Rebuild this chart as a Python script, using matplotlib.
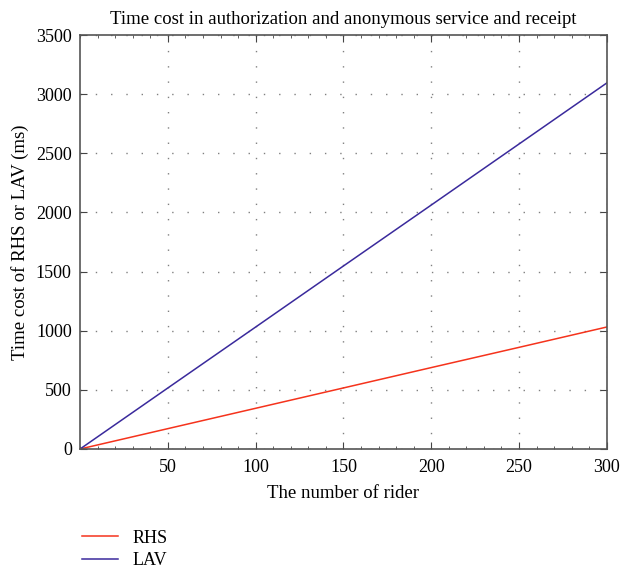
import matplotlib
matplotlib.use('Agg')
import matplotlib.pyplot as plt
from matplotlib.ticker import MultipleLocator

plt.rcParams['font.family'] = ['Liberation Serif', 'DejaVu Serif']

# values
riders = [0, 50, 100, 150, 200, 250, 300]
rhs_ms = [0, 172, 344, 516, 688, 859, 1031]
lav_ms = [0, 516, 1031, 1547, 2062, 2578, 3094]

x_ticks = [50, 100, 150, 200, 250, 300]
y_ticks = [0, 500, 1000, 1500, 2000, 2500, 3000, 3500]

fig = plt.figure(figsize=(6.21, 5.71), dpi=100)
ax = fig.add_axes([0.129, 0.2137, 0.848, 0.725])

ax.plot(riders, rhs_ms, color='#f5331c', lw=1.1, label='RHS')
ax.plot(riders, lav_ms, color='#3a2a9c', lw=1.1, label='LAV')

ax.set_xlim(0, 300)
ax.set_ylim(0, 3500)
ax.set_xticks(x_ticks)
ax.set_yticks(y_ticks)
ax.xaxis.set_minor_locator(MultipleLocator(10))
ax.tick_params(which='both', direction='in', top=True, right=True,
               labelsize=13, color='#444444')
ax.tick_params(which='major', length=5)
ax.tick_params(which='minor', length=2.5)
ax.tick_params(axis='x', pad=7)
ax.tick_params(axis='y', pad=6)

ax.grid(True, which='major', linestyle=(0, (1, 10)), color='#808080', lw=1.0)
for s in ax.spines.values():
    s.set_color('#555555')
    s.set_linewidth(1.2)

ax.set_title('Time cost in authorization and anonymous service and receipt',
             fontsize=13.5, pad=8)
ax.set_xlabel('The number of rider', fontsize=13.5, labelpad=7)
ax.set_ylabel('Time cost of RHS or LAV (ms)', fontsize=13.5, labelpad=5)

fig.legend(loc='upper left', bbox_to_anchor=(0.118, 0.088), frameon=False,
           fontsize=13, handlelength=2.0, handletextpad=0.8,
           labelspacing=0.3, borderpad=0)

fig.savefig('out.png', dpi=100)
